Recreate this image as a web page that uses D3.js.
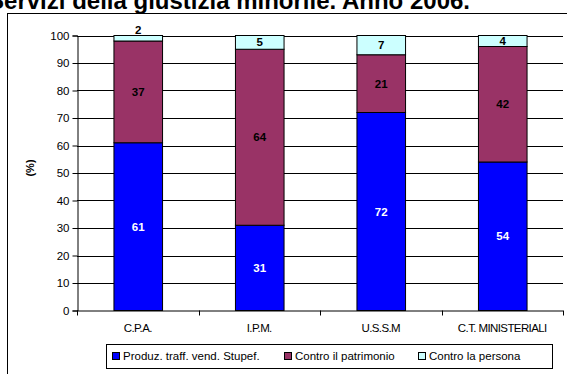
<!DOCTYPE html>
<html>
<head>
<meta charset="utf-8">
<script src="https://cdn.jsdelivr.net/npm/d3@7"></script>
<style>
  html, body { margin: 0; padding: 0; background: #fff; overflow: hidden; }
  svg { display: block; font-family: "Liberation Sans", Arial, sans-serif; }
</style>
</head>
<body>
<script>
// Categories (services) and the share of each offence type, in percent
const categories = ["C.P.A.", "I.P.M.", "U.S.S.M", "C.T. MINISTERIALI"];
const seriesNames = ["Produz. traff. vend. Stupef.", "Contro il patrimonio", "Contro la persona"];
const drugs    = [61, 31, 72, 54];
const property = [37, 64, 21, 42];
const person   = [2, 5, 7, 4];
const yTicks = [0, 10, 20, 30, 40, 50, 60, 70, 80, 90, 100];
const colors = ["#0000FF", "#993366", "#CCFFFF"];
const labelColors = ["#ffffff", "#000000", "#000000"];

const W = 567, H = 374;
const svg = d3.select("body").append("svg").attr("width", W).attr("height", H);

// Outer chart frame
svg.append("rect").attr("x", 7.5).attr("y", 13.5).attr("width", 620).attr("height", 420)
  .attr("fill", "none").attr("stroke", "#000").attr("stroke-width", 1);

// Title (runs off the top of the canvas)
svg.append("text").attr("x", 470).attr("y", 9).attr("text-anchor", "end")
  .attr("font-size", 24).attr("font-weight", "bold")
  .text("Servizi della giustizia minorile. Anno 2006.");

const plot = { left: 77, right: 563, top: 35.5, bottom: 310.5 };

const x = d3.scaleBand().domain(categories)
  .range([plot.left, plot.right]).paddingInner(0.6).paddingOuter(0.3);
const y = d3.scaleLinear().domain([0, 100]).range([plot.bottom, plot.top]);

// Horizontal gridlines
svg.append("g").selectAll("line").data(yTicks.filter(d => d > 0)).join("line")
  .attr("x1", plot.left).attr("x2", plot.right)
  .attr("y1", d => Math.round(y(d)) + 0.5).attr("y2", d => Math.round(y(d)) + 0.5)
  .attr("stroke", "#000").attr("stroke-width", 1);

// Stacked bars
const rows = categories.map((c, i) => ({ cat: c, drugs: drugs[i], property: property[i], person: person[i] }));
const stack = d3.stack().keys(["drugs", "property", "person"])(rows);

const layers = svg.append("g").selectAll("g").data(stack).join("g")
  .attr("fill", (d, i) => colors[i]);
layers.selectAll("rect").data(d => d).join("rect")
  .attr("x", d => x(d.data.cat) + 0.5)
  .attr("width", x.bandwidth())
  .attr("y", d => y(d[1]))
  .attr("height", d => y(d[0]) - y(d[1]))
  .attr("stroke", "#000").attr("stroke-width", 1);

// Segment value labels
stack.forEach((layer, li) => {
  svg.append("g").selectAll("text").data(layer).join("text")
    .attr("x", d => x(d.data.cat) + x.bandwidth() / 2 + 0.5)
    .attr("y", d => {
      const v = d[1] - d[0];
      if (v < 3) return y(d[1]) - 2;
      return (y(d[0]) + y(d[1])) / 2 + 4;
    })
    .attr("text-anchor", "middle")
    .attr("font-size", 11.5).attr("font-weight", "bold")
    .attr("fill", labelColors[li])
    .text(d => d[1] - d[0]);
});

// Y axis
const yAxis = svg.append("g").attr("transform", `translate(${plot.left + 0.5},0)`)
  .call(d3.axisLeft(y).tickValues(yTicks).tickSize(5).tickPadding(3));
yAxis.select(".domain").attr("stroke", "#000");
yAxis.selectAll(".tick line").attr("stroke", "#000");
yAxis.selectAll(".tick text").attr("font-size", 11.5).attr("fill", "#000")
  .attr("font-family", "Liberation Sans, Arial, sans-serif");

// X axis with ticks at category boundaries
const xAxisG = svg.append("g");
xAxisG.append("line").attr("x1", plot.left).attr("x2", plot.right)
  .attr("y1", plot.bottom + 0.5).attr("y2", plot.bottom + 0.5).attr("stroke", "#000");
const step = x.step();
const bounds = d3.range(categories.length + 1).map(i => plot.left + i * step);
xAxisG.selectAll("line.tk").data(bounds).join("line").attr("class", "tk")
  .attr("x1", d => Math.round(d) + 0.5).attr("x2", d => Math.round(d) + 0.5)
  .attr("y1", plot.bottom).attr("y2", plot.bottom + 5).attr("stroke", "#000");
xAxisG.selectAll("text").data(categories).join("text")
  .attr("x", d => x(d) + x.bandwidth() / 2)
  .attr("y", 332).attr("text-anchor", "middle")
  .attr("font-size", 11.5).attr("letter-spacing", -0.6)
  .text(d => d);

// Y axis title
svg.append("text").attr("transform", "translate(34,168) rotate(-90)")
  .attr("text-anchor", "middle").attr("font-size", 11).attr("font-weight", "bold")
  .text("(%)");

// Legend
const lg = svg.append("g");
lg.append("rect").attr("x", 106.5).attr("y", 344.5).attr("width", 446).attr("height", 24)
  .attr("fill", "#fff").attr("stroke", "#000");
const legendX = [112, 284, 418];
seriesNames.forEach((name, i) => {
  lg.append("rect").attr("x", legendX[i] + 0.5).attr("y", 352.5).attr("width", 7).attr("height", 7)
    .attr("fill", colors[i]).attr("stroke", "#000");
  lg.append("text").attr("x", legendX[i] + 11).attr("y", 360)
    .attr("font-size", 11.5).text(name);
});
</script>
</body>
</html>
